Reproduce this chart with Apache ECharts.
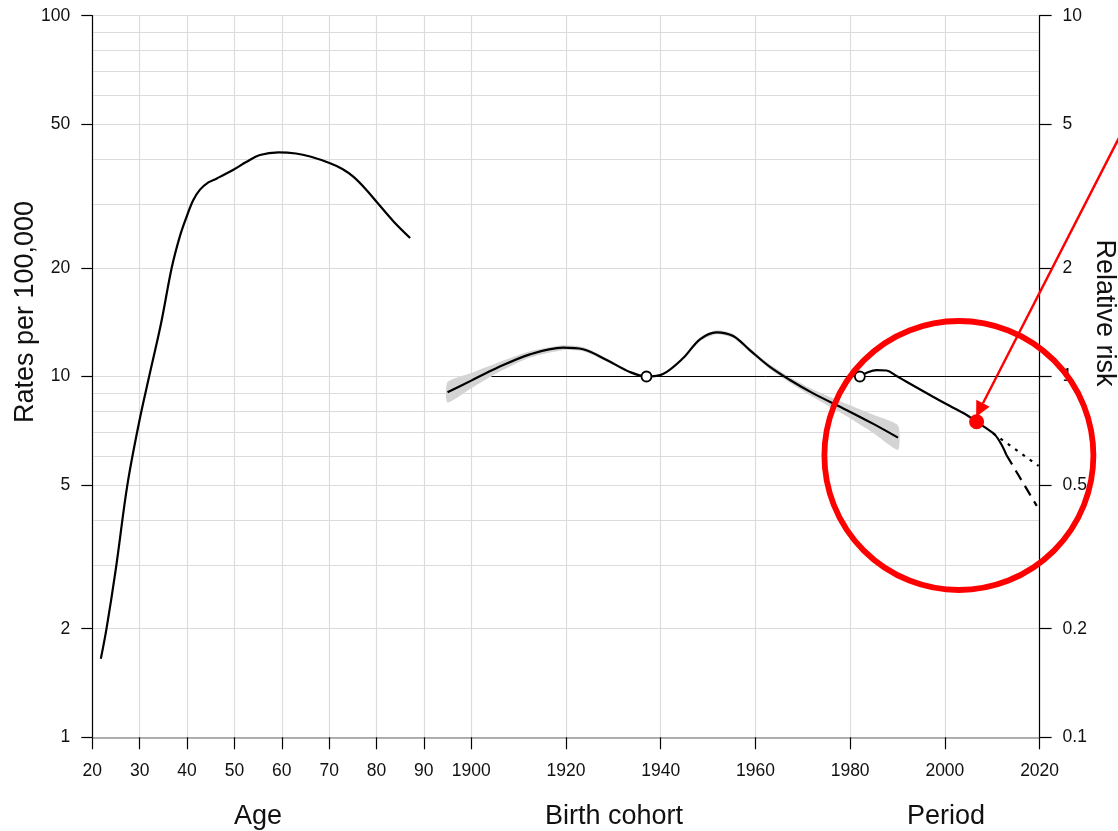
<!DOCTYPE html>
<html><head><meta charset="utf-8">
<script src="https://cdn.jsdelivr.net/npm/echarts@6/dist/echarts.min.js"></script>
<style>html,body{margin:0;padding:0;background:#fff}#c{width:1118px;height:831px}</style>
</head><body><div id="c"></div>
<script>
// ---- tick values ----
const ageTicks = [20, 30, 40, 50, 60, 70, 80, 90];
const yearTicks = [1900, 1920, 1940, 1960, 1980, 2000, 2020];
const rateTicks = [1, 2, 5, 10, 20, 50, 100];
const rrTicks = [0.1, 0.2, 0.5, 1, 2, 5, 10];
const rateGrid = [1, 2, 3, 4, 5, 6, 7, 8, 9, 10, 20, 30, 40, 50, 60, 70, 80, 90, 100];

// ---- age effect (rates per 100,000) ----
const ageX = [21.8, 23, 25, 27.4, 30, 32, 34.5, 36.8, 38.5, 39.9, 41.3, 42.7, 44.5, 46.3, 49.8, 52.5, 55.4, 59.3, 63, 66, 70.2, 72.8, 75.1, 77.6, 80.1, 83.6, 87.1];
const ageRate = [1.65, 2.0, 2.95, 5.0, 7.6, 10, 14, 20.1, 24.5, 27.7, 30.8, 32.9, 34.5, 35.4, 37.4, 39.3, 41.1, 41.8, 41.5, 40.7, 39.0, 37.6, 35.8, 33.2, 30.4, 26.9, 24.2];

// ---- birth cohort effect (rates, with confidence band) ----
const cohortYear = [1895, 1900, 1905.3, 1912.4, 1919.4, 1923.6, 1928.6, 1933.5, 1937, 1940.5, 1944.7, 1948.3, 1951.8, 1955.3, 1958.8, 1963, 1967.3, 1972.2, 1979.2, 1984.9, 1990.1];
const cohortRate = [9.04, 9.74, 10.54, 11.52, 12.02, 11.9, 11.11, 10.29, 10.0, 10.16, 11.23, 12.68, 13.26, 12.95, 11.84, 10.65, 9.78, 8.98, 8.08, 7.39, 6.77];
const cohortLow = [8.47, 9.28, 10.20, 11.29, 11.83, 11.74, 10.99, 10.23, 10.0, 10.12, 11.14, 12.54, 13.09, 12.78, 11.69, 10.49, 9.61, 8.76, 7.77, 6.97, 6.26];
const cohortHigh = [9.65, 10.23, 10.89, 11.75, 12.21, 12.07, 11.23, 10.35, 10.0, 10.20, 11.32, 12.82, 13.43, 13.12, 11.99, 10.81, 9.96, 9.20, 8.40, 7.83, 7.32];
const cohortRef = [1937, 10];

// ---- period effect (relative risk) ----
const periodYear = [1982.05, 1983.5, 1985.6, 1987.7, 1989.8, 1991.9, 1997.5, 2001.1, 2004.6, 2006.7, 2008.8, 2010.6, 2012.0, 2013.0];
const periodRR = [1.0, 1.0245, 1.042, 1.039, 1.003, 0.967, 0.879, 0.828, 0.782, 0.749, 0.718, 0.689, 0.646, 0.606];
const periodRef = [1982.05, 1];
const dottedYear = [2010.2, 2019.8];
const dottedRR = [0.696, 0.565];
const dashedYear = [2013.0, 2019.4];
const dashedRR = [0.606, 0.438];
const refLineYear = [1904.3, 2020];
const refLineRR = [1, 1];
const highlightPoint = [2006.7, 0.749];

const zip = (a, b) => a.map((v, i) => [v, b[i]]);
const FONT = "'Liberation Sans', Arial, Helvetica, sans-serif";
const TXT = '#111';
const GRIDC = '#dcdcdc';

const chart = echarts.init(document.getElementById('c'));
const lbl = (extra) => Object.assign({fontSize: 17.5, color: TXT, fontFamily: FONT, formatter: (v) => String(v)}, extra);

chart.setOption({
  animation: false,
  backgroundColor: '#fff',
  grid: {left: 92.3, right: 78.4, top: 15.7, bottom: 93.7, containLabel: false},
  xAxis: [
    {type: 'value', min: 20, max: 220, position: 'bottom',
     axisLine: {show: true, onZero: false, lineStyle: {color: '#999', width: 1.5}},
     axisTick: {show: true, length: 12, customValues: ageTicks, lineStyle: {color: '#000', width: 1.2}},
     axisLabel: lbl({customValues: ageTicks, margin: 25}),
     splitLine: {show: true, lineStyle: {color: GRIDC, width: 1.2}}},
    {type: 'value', min: 1820, max: 2020, position: 'bottom', offset: 0,
     axisLine: {show: false, onZero: false},
     axisTick: {show: true, length: 12, customValues: yearTicks, lineStyle: {color: '#000', width: 1.2}},
     axisLabel: lbl({customValues: yearTicks, margin: 25}),
     splitLine: {show: true, lineStyle: {color: GRIDC, width: 1.2}}}
  ],
  yAxis: [
    {type: 'log', logBase: 10, min: 1, max: 100, position: 'left',
     axisLine: {show: true, onZero: false, lineStyle: {color: '#000', width: 1.2}},
     axisTick: {show: true, length: 11, customValues: rateTicks, lineStyle: {color: '#000', width: 1.2}},
     axisLabel: lbl({customValues: rateTicks, margin: 22}),
     splitLine: {show: false}},
    {type: 'log', logBase: 10, min: 0.1, max: 10, position: 'right',
     axisLine: {show: true, onZero: false, lineStyle: {color: '#000', width: 1.2}},
     axisTick: {show: true, length: 12, customValues: rrTicks, lineStyle: {color: '#000', width: 1.2}},
     axisLabel: lbl({customValues: rrTicks, margin: 23}),
     splitLine: {show: false}},
    {type: 'log', logBase: 10, min: 1, max: 100, position: 'left',
     axisLine: {show: false}, axisTick: {show: false, customValues: rateGrid},
     axisLabel: {show: false, customValues: rateGrid},
     splitLine: {show: true, lineStyle: {color: GRIDC, width: 1.2}}}
  ],
  series: [
    {name: 'ciBand', type: 'custom', xAxisIndex: 1, yAxisIndex: 0, silent: true, z: 1,
     data: [[cohortYear[0], cohortRate[0]]],
     renderItem: function (params, api) {
       const up = cohortYear.map((x, i) => api.coord([x, cohortHigh[i]]));
       const lo = cohortYear.map((x, i) => api.coord([x, cohortLow[i]])).reverse();
       return {type: 'polygon', shape: {points: up.concat(lo), smooth: 0.2},
               style: {fill: '#d4d4d4', stroke: 'none'}};
     }},
    {name: 'ref', type: 'line', xAxisIndex: 1, yAxisIndex: 1, symbol: 'none', silent: true,
     lineStyle: {color: '#000', width: 1}, data: zip(refLineYear, refLineRR), z: 2},
    {name: 'age', type: 'line', xAxisIndex: 0, yAxisIndex: 0, smooth: 0.35, symbol: 'none',
     lineStyle: {color: '#000', width: 2.2}, data: zip(ageX, ageRate), z: 3},
    {name: 'cohort', type: 'line', xAxisIndex: 1, yAxisIndex: 0, smooth: 0.35, symbol: 'none',
     lineStyle: {color: '#000', width: 2.2}, data: zip(cohortYear, cohortRate), z: 3},
    {name: 'period', type: 'line', xAxisIndex: 1, yAxisIndex: 1, smooth: 0.35, symbol: 'none',
     lineStyle: {color: '#000', width: 2.2}, data: zip(periodYear, periodRR), z: 3},
    {name: 'periodDotted', type: 'line', xAxisIndex: 1, yAxisIndex: 1, symbol: 'none',
     lineStyle: {color: '#000', width: 2.2, type: [3, 6]}, data: zip(dottedYear, dottedRR), z: 3},
    {name: 'periodDashed', type: 'line', xAxisIndex: 1, yAxisIndex: 1, symbol: 'none',
     lineStyle: {color: '#000', width: 2.2, type: [11, 7]}, data: zip(dashedYear, dashedRR), z: 3},
    {name: 'cohortRefPt', type: 'scatter', xAxisIndex: 1, yAxisIndex: 0, symbol: 'circle', symbolSize: 10,
     itemStyle: {color: '#fff', borderColor: '#000', borderWidth: 1.8, opacity: 1}, data: [cohortRef], z: 4},
    {name: 'periodRefPt', type: 'scatter', xAxisIndex: 1, yAxisIndex: 1, symbol: 'circle', symbolSize: 10,
     itemStyle: {color: '#fff', borderColor: '#000', borderWidth: 1.8, opacity: 1}, data: [periodRef], z: 4},
    {name: 'highlight', type: 'scatter', xAxisIndex: 1, yAxisIndex: 1, symbol: 'circle', symbolSize: 15,
     itemStyle: {color: '#ff0000', opacity: 1}, data: [highlightPoint], z: 6}
  ]
});

// ---- annotations & titles ----
const tf = (t, x, y, rot) => ({type: 'text', x: x, y: y, rotation: rot || 0, z: 50,
  style: {text: t, fontSize: 27, fontFamily: FONT, fill: TXT, align: 'center', verticalAlign: 'middle'}});

const circC = chart.convertToPixel({xAxisIndex: 1, yAxisIndex: 0}, [2002.96, 6.04]);
const tip = chart.convertToPixel({xAxisIndex: 1, yAxisIndex: 1}, [2006.6, 0.774]);
const dir = [0.456, -0.890];
const far = [tip[0] + dir[0] * 400, tip[1] + dir[1] * 400];
const headLen = 15, headHalf = 7.5;
const base = [tip[0] + dir[0] * headLen, tip[1] + dir[1] * headLen];
const perp = [-dir[1], dir[0]];

chart.setOption({
  graphic: [
    tf('Rates per 100,000', 26, 312, Math.PI / 2),
    tf('Relative risk', 1104, 313, -Math.PI / 2),
    tf('Age', 258, 817),
    tf('Birth cohort', 614, 817),
    tf('Period', 946, 817),
    {type: 'circle', z: 60, shape: {cx: circC[0], cy: circC[1], r: 134.5},
     style: {fill: 'none', stroke: '#ff0000', lineWidth: 5.8}},
    {type: 'line', z: 60, shape: {x1: far[0], y1: far[1], x2: base[0], y2: base[1]},
     style: {stroke: '#ff0000', lineWidth: 2.4}},
    {type: 'polygon', z: 60, shape: {points: [tip,
       [base[0] + perp[0] * headHalf, base[1] + perp[1] * headHalf],
       [base[0] - perp[0] * headHalf, base[1] - perp[1] * headHalf]]},
     style: {fill: '#ff0000'}}
  ]
});
</script>
</body></html>
